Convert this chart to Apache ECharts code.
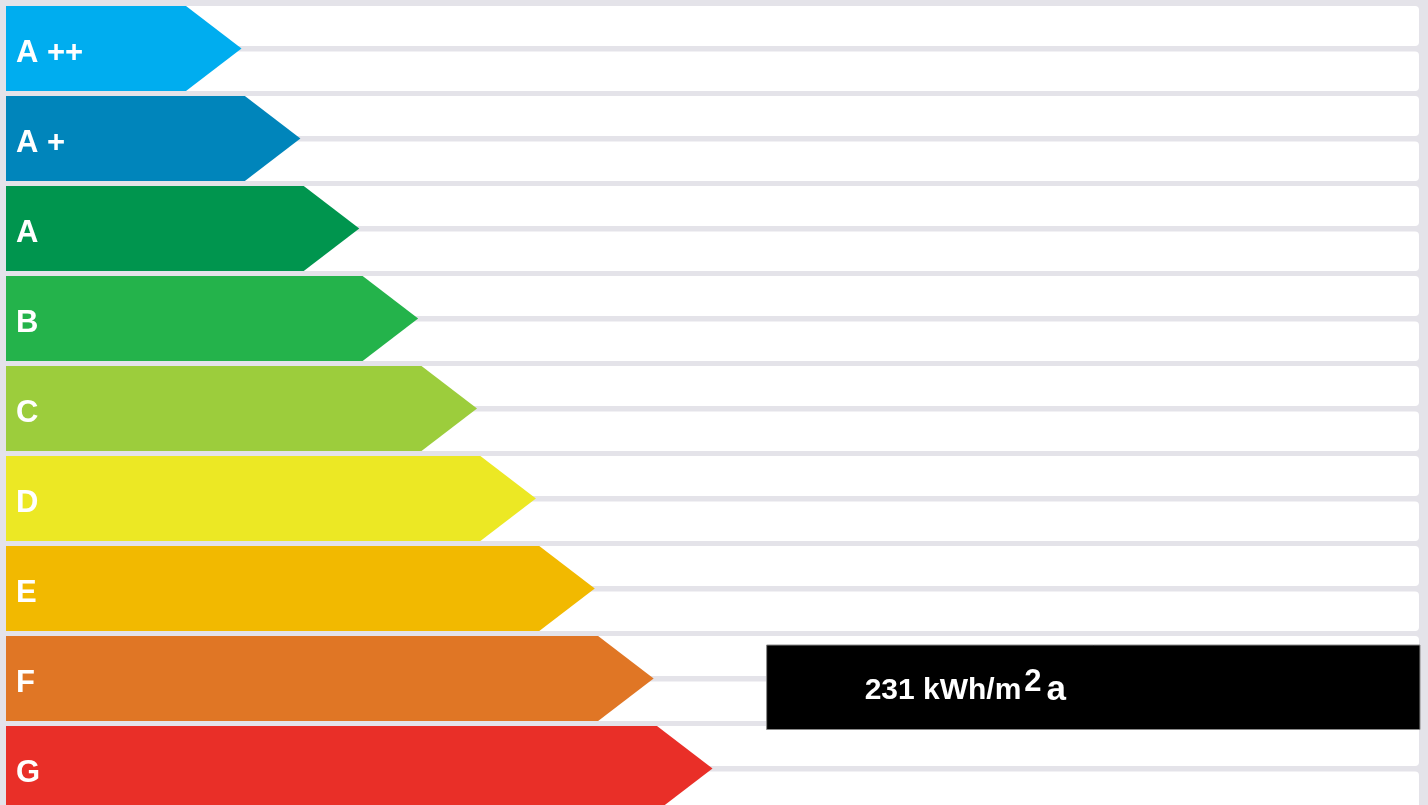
<!DOCTYPE html>
<html>
<head>
<meta charset="utf-8">
<script src="https://cdn.jsdelivr.net/npm/echarts@6/dist/echarts.min.js"></script>
<style>
html,body{margin:0;padding:0;background:#e4e3e9;}
#chart{width:1428px;height:805px;}
</style>
</head>
<body>
<div id="chart"></div>
<script>
// ---- data ----
const classes = ['A ++', 'A +', 'A', 'B', 'C', 'D', 'E', 'F', 'G'];
const arrowTips = [4, 5, 6, 7, 8, 9, 10, 11, 12];
const classColors = ['#00adef', '#0085bb', '#00954e', '#24b34b', '#9ccd3c', '#ece824', '#f2b900', '#e07625', '#e92f28'];
const ratingClass = 'F';
const ratingValue = 231;
const ratingUnit = 'kWh/m';
const ratingSup = '2';
const ratingSuffix = 'a';

const FONT = '"Liberation Sans", Arial, Helvetica, sans-serif';
const chart = echarts.init(document.getElementById('chart'), null, {renderer: 'canvas'});

const rows = classes.map((c, i) => [arrowTips[i], i]);
const ratingIdx = classes.indexOf(ratingClass);

function bandInfo(api, idx) {
  const c = api.coord([0, idx]);
  const h = api.size([0, 1])[1];
  return {top: c[1] - h / 2, h: h, x0: c[0]};
}

const option = {
  backgroundColor: '#e4e3e9',
  animation: false,
  grid: {left: 6, right: 9, top: 6, height: 810, outerBoundsMode: 'none', containLabel: false},
  xAxis: {type: 'value', min: 0, max: 24, show: false},
  yAxis: {type: 'category', data: classes, inverse: true, show: false},
  series: [
    {
      type: 'custom',
      z: 1,
      silent: true,
      data: rows,
      renderItem: function (params, api) {
        const b = bandInfo(api, api.value(1));
        const cs = params.coordSys;
        const w = cs.width;
        return {
          type: 'group',
          children: [
            {type: 'rect', shape: {x: b.x0, y: b.top, width: w, height: 40, r: 4}, style: {fill: '#ffffff'}},
            {type: 'rect', shape: {x: b.x0, y: b.top + 45.5, width: w, height: 39.5, r: 4}, style: {fill: '#ffffff'}}
          ]
        };
      }
    },
    {
      type: 'custom',
      z: 2,
      silent: true,
      data: rows,
      renderItem: function (params, api) {
        const idx = api.value(1);
        const b = bandInfo(api, idx);
        const tip = api.coord([api.value(0), idx]);
        const hh = 85;
        const depth = 55.5;
        const pts = [
          [b.x0, b.top],
          [tip[0] - depth, b.top],
          [tip[0], b.top + hh / 2],
          [tip[0] - depth, b.top + hh],
          [b.x0, b.top + hh]
        ];
        return {
          type: 'group',
          children: [
            {type: 'polygon', shape: {points: pts}, style: {fill: classColors[idx]}},
            {type: 'text', style: {
              x: b.x0 + 10, y: b.top + 47,
              text: classes[idx],
              fill: '#ffffff',
              font: 'bold 31px ' + FONT,
              verticalAlign: 'middle', align: 'left'
            }}
          ]
        };
      }
    },
    {
      type: 'custom',
      z: 3,
      silent: true,
      data: [[arrowTips[ratingIdx], ratingIdx, ratingValue]],
      renderItem: function (params, api) {
        const idx = api.value(1);
        const b = bandInfo(api, idx);
        const tip = api.coord([api.value(0), idx]);
        const cs = params.coordSys;
        const left = tip[0] + 113;
        const right = cs.x + cs.width + 1;
        const top = b.top + 9;
        const h = 84.5;
        return {
          type: 'group',
          children: [
            {type: 'rect', shape: {x: left, y: top, width: right - left, height: h},
              style: {fill: '#000000', stroke: '#8a8a8a', lineWidth: 1}},
            {type: 'text', style: {
              x: left + 98, y: top + h / 2 + 3,
              text: '{v|' + api.value(2) + ' ' + ratingUnit + '}{s|' + ratingSup + '}{a|' + ratingSuffix + '}',
              verticalAlign: 'middle', align: 'left',
              rich: {
                v: {fill: '#ffffff', fontSize: 30, fontWeight: 'bold', fontFamily: FONT},
                s: {fill: '#ffffff', fontSize: 31, fontWeight: 'bold', fontFamily: FONT, padding: [0, 5, 16, 3]},
                a: {fill: '#ffffff', fontSize: 35, fontWeight: 'bold', fontFamily: FONT}
              }
            }}
          ]
        };
      }
    }
  ]
};
chart.setOption(option);
</script>
</body>
</html>
